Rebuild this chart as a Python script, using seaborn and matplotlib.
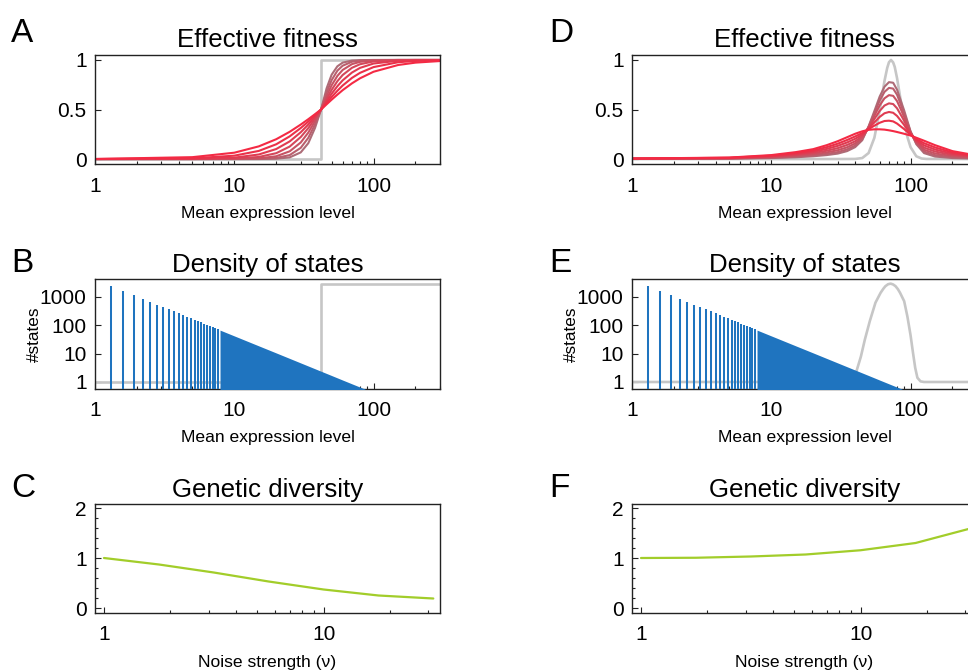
import numpy as np
import pandas as pd
import matplotlib
matplotlib.use("Agg")
import matplotlib.pyplot as plt
import seaborn as sns
from matplotlib.ticker import LogLocator, NullFormatter, FixedLocator, MultipleLocator

sns.set_style("ticks")
plt.rcParams['font.family'] = ['Liberation Sans', 'DejaVu Sans']
plt.rcParams['text.color'] = 'black'
plt.rcParams['axes.labelcolor'] = 'black'

# ---------------- data ----------------
noise_levels = ["1", "1.78", "3.16", "5.62", "10", "17.8", "31.6"]
curve_colors = ["#ad6c77", "#ba5f6d", "#c75363", "#d4475a", "#e03b51", "#ea3149", "#f42a44"]

# Panel A: effective fitness for a threshold (step) fitness
fitA_x = [1, 5, 10, 15, 20, 25, 30, 34, 38, 42, 46, 50, 55, 60, 70, 80, 100, 150, 200, 300]
fitA_nu1 = [0, 0, 0, 0.0003, 0.003, 0.017, 0.067, 0.16, 0.314, 0.5, 0.713, 0.851, 0.936, 0.973, 0.994, 0.998, 1, 1, 1, 1]
fitA_nu2 = [0, 0, 0.0002, 0.0018, 0.011, 0.040, 0.113, 0.214, 0.351, 0.5, 0.671, 0.796, 0.892, 0.942, 0.982, 0.994, 0.999, 1, 1, 1]
fitA_nu3 = [0, 0, 0.001, 0.007, 0.028, 0.078, 0.167, 0.267, 0.383, 0.5, 0.636, 0.744, 0.839, 0.899, 0.958, 0.981, 0.995, 1, 1, 1]
fitA_nu4 = [0, 0.0004, 0.005, 0.021, 0.059, 0.126, 0.222, 0.312, 0.408, 0.5, 0.608, 0.698, 0.786, 0.848, 0.921, 0.957, 0.985, 0.998, 1, 1]
fitA_nu5 = [0, 0.002, 0.014, 0.046, 0.101, 0.178, 0.270, 0.348, 0.427, 0.5, 0.585, 0.659, 0.735, 0.794, 0.873, 0.920, 0.964, 0.992, 0.997, 0.999]
fitA_nu6 = [0.0002, 0.007, 0.034, 0.082, 0.149, 0.229, 0.313, 0.378, 0.442, 0.5, 0.567, 0.626, 0.689, 0.742, 0.819, 0.870, 0.928, 0.977, 0.990, 0.997]
fitA_nu7 = [0.001, 0.019, 0.064, 0.128, 0.200, 0.275, 0.348, 0.402, 0.453, 0.5, 0.552, 0.599, 0.650, 0.695, 0.764, 0.815, 0.881, 0.949, 0.973, 0.989]
stepA_x = [1, 42, 42, 300]
stepA_y = [0, 0, 1, 1]

# Panel D: effective fitness for a peaked fitness
fitD_x = [1, 5, 10, 15, 20, 25, 30, 35, 40, 45, 50, 55, 60, 65, 70, 75, 80, 90, 100, 110, 125, 150, 200, 300]
fitD_nu1 = [.002, .004, .01, .018, .028, .04, .055, .08, .12, .19, .33, .485, .63, .73, .776, .77, .70, .49, .28, .15, .06, .025, .01, .004]
fitD_nu2 = [.002, .005, .014, .024, .037, .052, .070, .097, .136, .201, .326, .463, .590, .678, .718, .711, .649, .462, .275, .158, .075, .039, .018, .008]
fitD_nu3 = [.003, .007, .018, .032, .047, .067, .089, .118, .157, .214, .321, .435, .541, .613, .645, .638, .585, .427, .268, .168, .094, .056, .029, .012]
fitD_nu4 = [.003, .009, .023, .041, .060, .084, .110, .142, .179, .230, .315, .404, .485, .540, .562, .555, .512, .387, .261, .179, .115, .076, .041, .018]
fitD_nu5 = [.004, .011, .029, .050, .073, .102, .133, .167, .204, .246, .308, .370, .425, .462, .475, .467, .435, .344, .253, .190, .138, .096, .053, .023]
fitD_nu6 = [.004, .013, .034, .060, .086, .120, .155, .192, .228, .262, .302, .337, .366, .384, .387, .380, .358, .302, .246, .202, .160, .117, .066, .029]
fitD_nu7 = [.005, .015, .040, .070, .100, .140, .180, .220, .255, .280, .295, .300, .300, .297, .290, .282, .273, .255, .237, .215, .185, .140, .080, .035]
peakD_x = [1, 30, 40, 45, 50, 55, 60, 65, 68, 70, 72.4, 75, 77, 80, 85, 90, 95, 100, 110, 120, 130, 300]
peakD_y = [0, 0, 0.001, 0.01, 0.061, 0.215, 0.487, 0.789, 0.92, 0.977, 1, 0.975, 0.93, 0.816, 0.591, 0.381, 0.222, 0.12, 0.028, 0.0055, 0.001, 0]

# Panels B/E: density of states (sparse bars, then dense region envelope)
dos_bar_x = [1.3, 1.6, 1.9, 2.2, 2.5, 2.8, 3.1, 3.4, 3.7, 4.0, 4.3, 4.6, 4.9, 5.2, 5.5, 5.8, 6.1, 6.4, 6.7, 7.0, 7.3, 7.6]
dos_bar_n = [2500, 1650, 1170, 873, 676, 539, 440, 365, 309, 264, 228, 200, 176, 156, 140, 126, 114, 103, 94, 86, 79, 73]
dos_dense_x = [7.9, 10, 15, 20, 30, 40, 50, 60, 70, 80, 87]
dos_dense_n = [67.7, 42.3, 18.8, 10.6, 4.7, 2.64, 1.69, 1.17, 0.86, 0.66, 0.56]
stepB_x = [1, 42, 42, 300]
stepB_y = [1, 1, 2980, 2980]
peakE_x = [1, 30, 35, 38, 41, 44, 47, 51, 56, 61, 64, 66, 69, 72, 75, 78, 81, 84, 90, 95, 100, 104, 108, 112, 118, 125, 300]
peakE_y = [1, 1, 1.02, 1.26, 2.5, 7.9, 31.6, 141, 631, 1413, 1995, 2399, 2818, 2951, 2754, 2399, 1905, 1413, 708, 200, 44.7, 11.2, 3.16, 1.41, 1.05, 1, 1]

# Panels C/F: genetic diversity vs noise strength
noise_strength = [1, 1.78, 3.16, 5.62, 10, 17.8, 31.6]
diversity_C = [1.0, 0.87, 0.71, 0.53, 0.37, 0.25, 0.19]
diversity_F = [1.0, 1.005, 1.03, 1.07, 1.155, 1.30, 1.59]

# ---------------- figure ----------------
W, H = 968, 671
fig = plt.figure(figsize=(W / 100, H / 100), dpi=100)

def add_ax(l, t, r, b):
    return fig.add_axes([l / W, 1 - b / H, (r - l) / W, (b - t) / H])

axA = add_ax(95, 55, 440, 164)
axB = add_ax(95, 279, 440, 389)
axC = add_ax(95, 504, 440, 613)
axD = add_ax(632, 55, 977, 164)
axE = add_ax(632, 279, 977, 389)
axF = add_ax(632, 504, 977, 613)

GRAY = "#c6c6c6"
BLUE = "#1f74bf"
GREEN = "#a2cd2a"
SPINE = "#222222"


def fitness_frame(xs, curves):
    rows = []
    for nu, ys in zip(noise_levels, curves):
        for xv, yv in zip(xs, ys):
            rows.append((xv, yv, nu))
    return pd.DataFrame(rows, columns=["x", "y", "nu"])


def style_log_x(ax, xlim, major, labels):
    ax.set_xscale("log")
    ax.set_xlim(*xlim)
    ax.xaxis.set_major_locator(FixedLocator(major))
    ax.set_xticklabels(labels)
    ax.xaxis.set_minor_locator(LogLocator(base=10, subs=np.arange(2, 10)))
    ax.xaxis.set_minor_formatter(NullFormatter())


def common(ax):
    ax.tick_params(which="both", direction="in", top=False, right=False,
                   color=SPINE, labelcolor="black", width=0.8)
    ax.tick_params(which="major", length=4.5)
    ax.tick_params(which="minor", length=2.5)
    ax.tick_params(axis="x", which="both", pad=9, labelsize=15)
    ax.tick_params(axis="y", which="both", pad=6, labelsize=15)
    for s in ax.spines.values():
        s.set_visible(True)
        s.set_linewidth(1.0)
        s.set_color(SPINE)
    ax.set_xlabel("")
    ax.set_ylabel("")
    ax.set_facecolor("white")


pal = dict(zip(noise_levels, curve_colors))

# ---- A ----
sns.lineplot(x=stepA_x, y=stepA_y, color=GRAY, lw=1.9, estimator=None, sort=False, ax=axA)
dfA = fitness_frame(fitA_x, [fitA_nu1, fitA_nu2, fitA_nu3, fitA_nu4, fitA_nu5, fitA_nu6, fitA_nu7])
sns.lineplot(data=dfA, x="x", y="y", hue="nu", hue_order=noise_levels, palette=pal,
             estimator=None, sort=False, lw=1.5, legend=False, ax=axA)

# ---- D ----
sns.lineplot(x=peakD_x, y=peakD_y, color=GRAY, lw=1.9, estimator=None, sort=False, ax=axD)
dfD = fitness_frame(fitD_x, [fitD_nu1, fitD_nu2, fitD_nu3, fitD_nu4, fitD_nu5, fitD_nu6, fitD_nu7])
sns.lineplot(data=dfD, x="x", y="y", hue="nu", hue_order=noise_levels, palette=pal,
             estimator=None, sort=False, lw=1.5, legend=False, ax=axD)

for ax in (axA, axD):
    style_log_x(ax, (1, 300), [1, 10, 100], ["1", "10", "100"])
    ax.set_ylim(-0.05, 1.05)
    ax.set_yticks([0, 0.5, 1])
    ax.set_yticklabels(["0", "0.5", "1"])
    common(ax)

# ---- B / E ----
for ax, gx, gy in ((axB, stepB_x, stepB_y), (axE, peakE_x, peakE_y)):
    ax.set_xscale("log")
    ax.set_yscale("log")
    sns.lineplot(x=gx, y=gy, color=GRAY, lw=1.9, estimator=None, sort=False, ax=ax)
    ax.vlines(dos_bar_x, 0.1, dos_bar_n, colors=BLUE, lw=1.45, zorder=3)
    ax.fill_between(dos_dense_x, 0.1, dos_dense_n, color=BLUE, lw=0, zorder=3)
    style_log_x(ax, (1, 300), [1, 10, 100], ["1", "10", "100"])
    ax.set_ylim(0.566, 4300)
    ax.yaxis.set_major_locator(FixedLocator([1, 10, 100, 1000]))
    ax.set_yticklabels(["1", "10", "100", "1000"])
    ax.yaxis.set_minor_locator(LogLocator(base=10, subs=np.arange(2, 10)))
    ax.yaxis.set_minor_formatter(NullFormatter())
    common(ax)

# ---- C / F ----
for ax, div in ((axC, diversity_C), (axF, diversity_F)):
    sns.lineplot(x=noise_strength, y=div, color=GREEN, lw=1.6, estimator=None, sort=False, ax=ax)
    style_log_x(ax, (0.91, 33.9), [1, 10], ["1", "10"])
    ax.set_ylim(-0.1, 2.08)
    ax.set_yticks([0, 1, 2])
    ax.set_yticklabels(["0", "1", "2"])
    ax.yaxis.set_minor_locator(MultipleLocator(0.2))
    common(ax)

# ---- texts ----
def ftext(x, y, s, **kw):
    fig.text(x / W, 1 - y / H, s, va="baseline", color="black", **kw)

for cx in (267.5, 804.5):
    ftext(cx, 47, "Effective fitness", ha="center", fontsize=18.6)
    ftext(cx, 272, "Density of states", ha="center", fontsize=18.6)
    ftext(cx, 497, "Genetic diversity", ha="center", fontsize=18.6)
    ftext(cx, 218, "Mean expression level", ha="center", fontsize=12.6)
    ftext(cx, 442, "Mean expression level", ha="center", fontsize=12.6)
    ftext(cx, 667, "Noise strength (\u03bd)", ha="center", fontsize=12.6)

for lx, letters in ((11, "ABC"), (549, "DEF")):
    for ly, letter in zip((42, 272, 497), letters):
        ftext(lx, ly, letter, ha="left", fontsize=24)

for yx in (42, 579):
    fig.text(yx / W, 1 - 334 / H, "#states", rotation=90, ha="right", va="center",
             fontsize=12.3, color="black")

fig.savefig("out.png", dpi=100, facecolor="white")
